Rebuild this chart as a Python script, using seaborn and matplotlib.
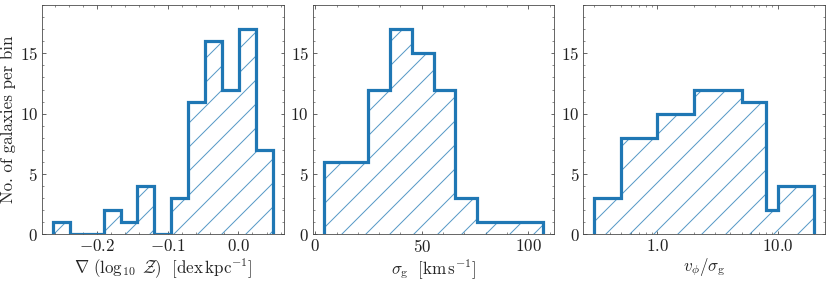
import matplotlib
matplotlib.use("Agg")
import matplotlib.pyplot as plt
import matplotlib.ticker as ticker
from matplotlib.colors import to_rgba
import numpy as np
import pandas as pd
import seaborn as sns

# metallicity gradient histogram
grad_edges = [-0.2625, -0.2386, -0.2147, -0.1907, -0.1668, -0.1429, -0.1190,
              -0.0950, -0.0711, -0.0472, -0.0233, 0.0007, 0.0246, 0.0485]
grad_counts = [1, 0, 0, 2, 1, 4, 0, 3, 11, 16, 12, 17, 7]

# velocity dispersion histogram
sigma_edges = [4.0, 14.3, 24.6, 34.9, 45.2, 55.5, 65.8, 76.1, 86.4, 96.7, 107.0]
sigma_counts = [6, 6, 12, 17, 15, 12, 3, 1, 1, 1]

# v_phi / sigma histogram (log bins)
ratio_edges = [0.3, 0.5, 1.0, 2.0, 5.0, 8.0, 10.0, 20.0]
ratio_counts = [3, 8, 10, 12, 11, 2, 4]

xlabels = [
    r"$\nabla\ (\log_{10}\ \mathcal{Z})\ \ [\mathrm{dex\,kpc^{-1}}]$",
    r"$\sigma_{\rm g}\ \ [\mathrm{km\,s^{-1}}]$",
    r"$v_\phi/\sigma_{\rm g}$",
]
ylabel = "No. of galaxies per bin"

sns.set_theme(style="ticks")
plt.rcParams["font.family"] = "serif"
plt.rcParams["font.serif"] = ["cmr10", "DejaVu Serif"]
plt.rcParams["mathtext.fontset"] = "cm"
plt.rcParams["axes.formatter.use_mathtext"] = True
plt.rcParams["hatch.linewidth"] = 1.0

blue = "#1f77b4"
grey = "#444444"

fig, axes = plt.subplots(1, 3, figsize=(830 / 72, 281 / 72), dpi=72)
fig.subplots_adjust(left=0.0506, right=0.994, bottom=0.166, top=0.982, wspace=0.121)

panels = [
    (grad_edges, grad_counts, False),
    (sigma_edges, sigma_counts, False),
    (ratio_edges, ratio_counts, True),
]

for ax, (edges, counts, logx), xl in zip(axes, panels, xlabels):
    e = np.asarray(edges)
    if logx:
        centers = np.sqrt(e[:-1] * e[1:])
    else:
        centers = 0.5 * (e[:-1] + e[1:])
    df = pd.DataFrame({"x": centers, "n": counts})
    if logx:
        ax.set_xscale("log")
    bins = list(np.log10(e)) if logx else list(e)
    sns.histplot(data=df, x="x", weights="n", bins=bins,
                 element="step", fill=True, color=blue, facecolor="none",
                 edgecolor=to_rgba(blue, 0.75), hatch="/", linewidth=0, ax=ax)
    ax.stairs(counts, edges, baseline=0, color=blue, linewidth=3.2, zorder=3)

    ax.set_ylim(0, 19)
    ax.set_xlabel(xl, fontsize=17, labelpad=2)
    ax.set_ylabel("")
    ax.yaxis.set_major_locator(ticker.MultipleLocator(5))
    ax.yaxis.set_minor_locator(ticker.MultipleLocator(1))
    if logx:
        ax.xaxis.set_major_locator(ticker.LogLocator(base=10))
        ax.xaxis.set_minor_locator(ticker.LogLocator(base=10, subs=np.arange(2, 10)))
        ax.xaxis.set_major_formatter(ticker.FuncFormatter(lambda v, p: f"${v:.1f}$"))
        ax.xaxis.set_minor_formatter(ticker.NullFormatter())
    else:
        ax.xaxis.set_minor_locator(ticker.AutoMinorLocator())
    ax.tick_params(which="both", direction="in", top=True, right=True,
                   color=grey, labelsize=17, labelcolor="#222222", pad=4)
    ax.tick_params(which="major", length=3.5, width=0.8)
    ax.tick_params(which="minor", length=2, width=0.6)
    for s in ax.spines.values():
        s.set_color(grey)
        s.set_linewidth(0.8)

axes[0].set_ylabel(ylabel, fontsize=17, labelpad=4)

fig.savefig("out.png", dpi=72)
